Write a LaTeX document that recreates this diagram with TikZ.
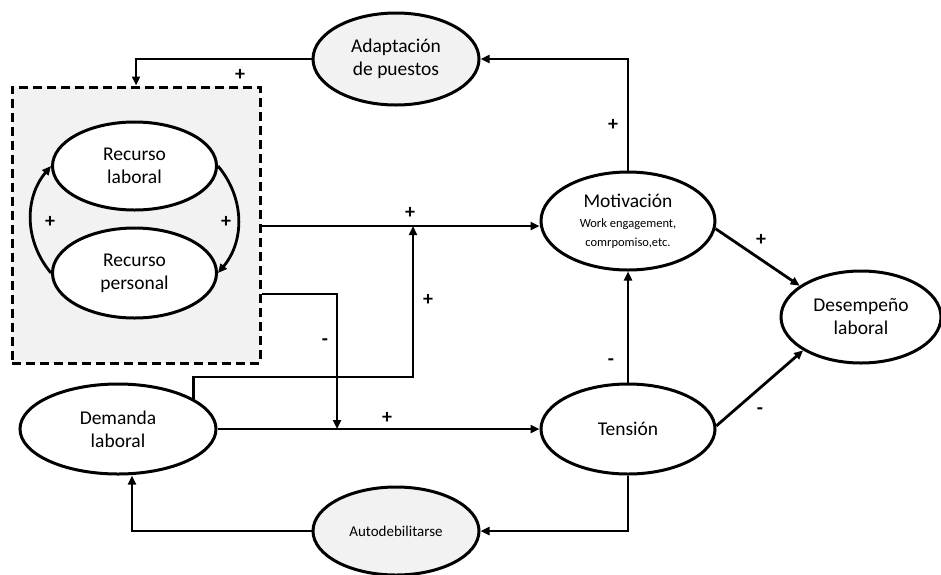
\documentclass[tikz,border=0pt]{standalone}
\usepackage{fontspec}
\setmainfont{Carlito}
\usetikzlibrary{shapes.geometric,arrows.meta}
\definecolor{lgray}{HTML}{F2F2F2}
\tikzset{
  ell/.style={ellipse, draw, line width=3pt, fill=white, inner sep=0pt, align=center, font=\fontsize{19.5}{23}\selectfont},
  gell/.style={ell, fill=lgray},
  conn/.style={line width=2.8pt},
  arr/.style={conn, -{Triangle[length=9pt,width=8pt]}},
  sign/.style={font=\bfseries\fontsize{20}{20}\selectfont}
}
\begin{document}
\begin{tikzpicture}[x=1pt,y=-1pt]
\useasboundingbox (0,0) rectangle (941,574);
% dashed box
\node[draw, dash pattern=on 9pt off 5pt, line width=3pt, fill=lgray, minimum width=248pt, minimum height=276pt, inner sep=0pt] (box) at (136,225) {};
\node[ell, minimum width=164pt, minimum height=88pt] (rl) at (134.5,166) {Recurso\\laboral};
\node[ell, minimum width=164pt, minimum height=90pt] (rp) at (134.5,273) {Recurso\\personal};
\node[gell, minimum width=166pt, minimum height=92pt] (adapt) at (396,59) {Adaptación\\de puestos};
\node[ell, minimum width=174pt, minimum height=98pt] (mot) at (628,221) {Motivación\\[-3pt]{\fontsize{12.5}{15}\selectfont Work engagement,}\\[-4pt]{\fontsize{12.5}{15}\selectfont comrpomiso,etc.}};
\node[ell, minimum width=160pt, minimum height=92pt] (des) at (861,317) {Desempeño\\laboral};
\node[ell, minimum width=174pt, minimum height=90pt] (tens) at (628,429) {Tensión};
\node[ell, minimum width=196pt, minimum height=90pt] (dem) at (118,429) {Demanda\\laboral};
\node[gell, minimum width=166pt, minimum height=88pt, font=\fontsize{15}{18}\selectfont] (auto) at (396,531) {Autodebilitarse};
% inner curved arrows
\draw[arr] (rp.west) to[bend left=40] (rl.west);
\draw[arr] (rl.east) to[bend left=40] (rp.east);
\node[sign] at (50,222) {+};
\node[sign] at (226,222) {+};
% coordinates
\coordinate (b1) at (box.east |- 0,226);
\coordinate (b2) at (box.east |- 0,294);
\coordinate (j1) at (413,377);
\coordinate (j2) at (413,226);
\coordinate (k1) at (337,294);
\coordinate (k2) at (337,429);
% connectors
\draw[arr] (mot.north) |- (adapt.east);
\draw[arr] (adapt.west) -| (box.north);
\draw[arr] (b1) -- (b1 -| mot.west);
\draw[arr] (dem.22) |- (j1) -- (j2);
\draw[arr] (b2) -- (k1) -- (k2);
\draw[arr] (dem.east) -- (tens.west);
\draw[arr] (tens.north) -- (mot.south);
\draw[arr] (mot.-5) -- (des.153);
\draw[arr] (tens.2) -- (des.-150);
\draw[arr] (tens.south) |- (auto.east);
\draw[arr] (auto.west) -| ([xshift=14pt]dem.south);
% signs
\node[sign] at (240,75) {+};
\node[sign] at (613,125) {+};
\node[sign] at (410,213) {+};
\node[sign] at (428,300) {+};
\node[sign] at (325,342) {-};
\node[sign] at (387,418) {+};
\node[sign] at (611,362) {-};
\node[sign] at (761,240) {+};
\node[sign] at (760,411) {-};
\end{tikzpicture}
\end{document}
